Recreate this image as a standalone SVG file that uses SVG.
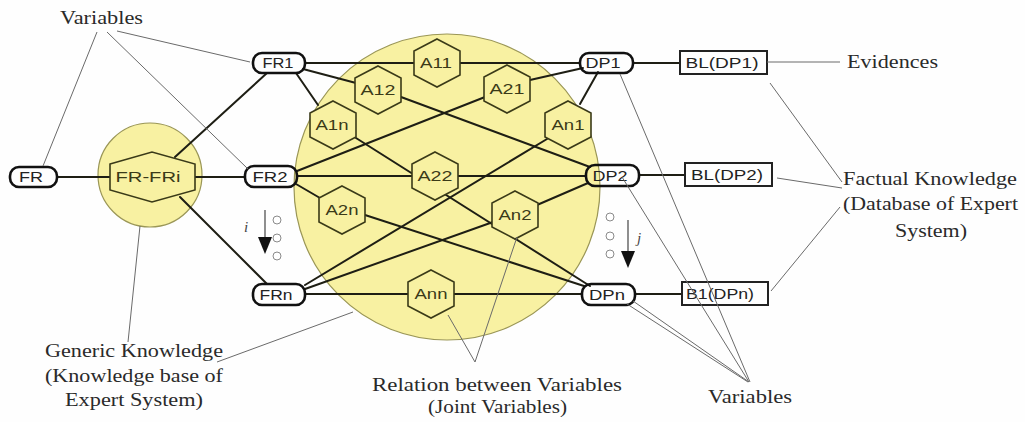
<svg xmlns="http://www.w3.org/2000/svg" width="1025" height="422" viewBox="0 0 1025 422">
<style>
.bg{fill:#fefefe}
.zone{fill:#f8f1a2;stroke:#9a9656;stroke-width:1.2}
.conn{stroke:#1e1e14;stroke-width:2;fill:none;stroke-linecap:round}
.lead{stroke:#6a6a6a;stroke-width:1;fill:none}
.hex{fill:#f8f1a2;stroke:#3a3a18;stroke-width:1.6}
.pill{fill:none;stroke:#111;stroke-width:2.6}
.box{fill:none;stroke:#222;stroke-width:2}
.nl{font-family:"Liberation Sans",Arial,sans-serif;font-size:14px;fill:#222;text-anchor:middle}
.nl2{font-family:"Liberation Sans",Arial,sans-serif;font-size:14px;fill:#3a3a18;text-anchor:middle}
.ann{font-family:"Liberation Serif","Times New Roman",serif;font-size:19px;fill:#2a2a2a}
.idx{font-family:"Liberation Serif","Times New Roman",serif;font-size:15px;font-style:italic;fill:#444}
.dot{fill:#fff;stroke:#8a8a8a;stroke-width:1}
.arr{stroke:#444;stroke-width:1.2}
</style>
<rect class="bg" x="0" y="0" width="1025" height="422"/>

<g id="zones">
  <circle class="zone" cx="447" cy="187" r="153"/>
  <circle class="zone" cx="150" cy="175" r="52"/>
</g>

<g id="connectors">
  <line class="conn" x1="57" y1="177" x2="110" y2="177"/>
  <line class="conn" x1="195" y1="177" x2="245" y2="177"/>
  <line class="conn" x1="267" y1="73" x2="175" y2="157"/>
  <line class="conn" x1="180" y1="197" x2="267" y2="284"/>
  <line class="conn" x1="305" y1="63" x2="414" y2="63"/>
  <line class="conn" x1="460" y1="63" x2="580" y2="63"/>
  <line class="conn" x1="303" y1="69" x2="356" y2="83"/>
  <line class="conn" x1="401" y1="97" x2="590" y2="167"/>
  <line class="conn" x1="296" y1="73" x2="318" y2="105"/>
  <line class="conn" x1="356" y1="138" x2="590" y2="286"/>
  <line class="conn" x1="297" y1="171" x2="485" y2="97"/>
  <line class="conn" x1="530" y1="80" x2="583" y2="68"/>
  <line class="conn" x1="297" y1="176" x2="412" y2="176"/>
  <line class="conn" x1="458" y1="176" x2="586" y2="176"/>
  <line class="conn" x1="296" y1="184" x2="320" y2="198"/>
  <line class="conn" x1="365" y1="215" x2="584" y2="286"/>
  <line class="conn" x1="305" y1="285" x2="547" y2="139"/>
  <line class="conn" x1="580" y1="104" x2="598" y2="72"/>
  <line class="conn" x1="305" y1="289" x2="493" y2="222"/>
  <line class="conn" x1="537" y1="205" x2="588" y2="183"/>
  <line class="conn" x1="305" y1="294" x2="408" y2="294"/>
  <line class="conn" x1="454" y1="294" x2="582" y2="294"/>
  <line class="conn" x1="633" y1="63" x2="680" y2="63"/>
  <line class="conn" x1="639" y1="175" x2="685" y2="175"/>
  <line class="conn" x1="635" y1="294" x2="682" y2="294"/>
</g>

<g id="node-FR-FRi">
  <polygon class="hex" points="110,164 152,152 195,164 195,190 152,202 110,190"/>
  <text class="nl2" x="148" y="182" textLength="65" lengthAdjust="spacingAndGlyphs">FR-FRi</text>
</g>
<g id="node-A11"><polygon class="hex" points="437,39 460,51 460,75 437,87 414,75 414,51"/><text class="nl2" x="436" y="68" textLength="32" lengthAdjust="spacingAndGlyphs">A11</text></g>
<g id="node-A12"><polygon class="hex" points="378,66 401,78 401,102 378,114 355,102 355,78"/><text class="nl2" x="378" y="95" textLength="35" lengthAdjust="spacingAndGlyphs">A12</text></g>
<g id="node-A21"><polygon class="hex" points="507,65 530,77 530,101 507,113 484,101 484,77"/><text class="nl2" x="507" y="94" textLength="35" lengthAdjust="spacingAndGlyphs">A21</text></g>
<g id="node-A1n"><polygon class="hex" points="333,101 356,113 356,137 333,149 310,137 310,113"/><text class="nl2" x="332" y="130" textLength="33" lengthAdjust="spacingAndGlyphs">A1n</text></g>
<g id="node-An1"><polygon class="hex" points="568,101 591,113 591,137 568,149 545,137 545,113"/><text class="nl2" x="568" y="130" textLength="33" lengthAdjust="spacingAndGlyphs">An1</text></g>
<g id="node-A22"><polygon class="hex" points="435,152 458,164 458,188 435,200 412,188 412,164"/><text class="nl2" x="435" y="181" textLength="35" lengthAdjust="spacingAndGlyphs">A22</text></g>
<g id="node-A2n"><polygon class="hex" points="342,186 365,198 365,222 342,234 319,222 319,198"/><text class="nl2" x="342" y="215" textLength="33" lengthAdjust="spacingAndGlyphs">A2n</text></g>
<g id="node-An2"><polygon class="hex" points="515,191 538,203 538,227 515,239 492,227 492,203"/><text class="nl2" x="515" y="220" textLength="33" lengthAdjust="spacingAndGlyphs">An2</text></g>
<g id="node-Ann"><polygon class="hex" points="431,270 454,282 454,306 431,318 408,306 408,282"/><text class="nl2" x="431" y="299" textLength="33" lengthAdjust="spacingAndGlyphs">Ann</text></g>

<g id="node-FR"><rect class="pill" x="10" y="167" width="47" height="20" rx="9"/><text class="nl" x="31" y="182" textLength="24" lengthAdjust="spacingAndGlyphs">FR</text></g>
<g id="node-FR1"><rect class="pill" x="253" y="53" width="52" height="20" rx="9"/><text class="nl" x="278" y="68" textLength="31" lengthAdjust="spacingAndGlyphs">FR1</text></g>
<g id="node-FR2"><rect class="pill" x="245" y="166" width="52" height="21" rx="9"/><text class="nl" x="270" y="182" textLength="35" lengthAdjust="spacingAndGlyphs">FR2</text></g>
<g id="node-FRn"><rect class="pill" x="253" y="284" width="52" height="21" rx="9"/><text class="nl" x="276" y="300" textLength="33" lengthAdjust="spacingAndGlyphs">FRn</text></g>
<g id="node-DP1"><rect class="pill" x="580" y="53" width="53" height="20" rx="9"/><text class="nl" x="603" y="68" textLength="35" lengthAdjust="spacingAndGlyphs">DP1</text></g>
<g id="node-DP2"><rect class="pill" x="586" y="165" width="53" height="21" rx="9"/><text class="nl" x="610" y="181" textLength="35" lengthAdjust="spacingAndGlyphs">DP2</text></g>
<g id="node-DPn"><rect class="pill" x="582" y="284" width="53" height="21" rx="9"/><text class="nl" x="607" y="300" textLength="36" lengthAdjust="spacingAndGlyphs">DPn</text></g>

<g id="node-BL-DP1"><rect class="box" x="680" y="51" width="87" height="23"/><text class="nl" x="722" y="68" textLength="73" lengthAdjust="spacingAndGlyphs">BL(DP1)</text></g>
<g id="node-BL-DP2"><rect class="box" x="685" y="163" width="87" height="23"/><text class="nl" x="727" y="180" textLength="72" lengthAdjust="spacingAndGlyphs">BL(DP2)</text></g>
<g id="node-B1-DPn"><rect class="box" x="682" y="282" width="86" height="23"/><text class="nl" x="720" y="299" textLength="68" lengthAdjust="spacingAndGlyphs">B1(DPn)</text></g>

<g id="index-i">
  <circle class="dot" cx="277" cy="220" r="4"/>
  <circle class="dot" cx="277" cy="238" r="4"/>
  <circle class="dot" cx="277" cy="256" r="4"/>
  <line class="arr" x1="265" y1="210" x2="265" y2="240"/>
  <polygon points="258,237 272,237 265,254" fill="#111"/>
  <text class="idx" x="244" y="232">i</text>
</g>
<g id="index-j">
  <circle class="dot" cx="610" cy="217" r="4"/>
  <circle class="dot" cx="610" cy="236" r="4"/>
  <circle class="dot" cx="610" cy="254" r="4"/>
  <line class="arr" x1="628" y1="220" x2="628" y2="254"/>
  <polygon points="621,251 635,251 628,268" fill="#111"/>
  <text class="idx" x="637" y="243">j</text>
</g>

<g id="leaders">
  <line class="lead" x1="97" y1="32" x2="43" y2="166"/>
  <line class="lead" x1="107" y1="32" x2="248" y2="169"/>
  <line class="lead" x1="117" y1="31" x2="250" y2="62"/>
  <line class="lead" x1="767" y1="62" x2="840" y2="62"/>
  <line class="lead" x1="770" y1="83" x2="842" y2="182"/>
  <line class="lead" x1="777" y1="178" x2="842" y2="188"/>
  <line class="lead" x1="771" y1="291" x2="840" y2="207"/>
  <line class="lead" x1="140" y1="226" x2="128" y2="342"/>
  <line class="lead" x1="217" y1="362" x2="353" y2="312"/>
  <line class="lead" x1="475" y1="362" x2="448" y2="315"/>
  <line class="lead" x1="475" y1="362" x2="517" y2="237"/>
  <line class="lead" x1="620" y1="74" x2="750" y2="382"/>
  <line class="lead" x1="622" y1="177" x2="749" y2="382"/>
  <line class="lead" x1="633" y1="301" x2="749" y2="382"/>
  <line class="lead" x1="627" y1="304" x2="748" y2="382"/>
</g>

<g id="labels">
  <text class="ann" x="60" y="24" textLength="83" lengthAdjust="spacingAndGlyphs">Variables</text>
  <text class="ann" x="847" y="68" textLength="91" lengthAdjust="spacingAndGlyphs">Evidences</text>
  <text class="ann" x="843" y="185" textLength="174" lengthAdjust="spacingAndGlyphs">Factual Knowledge</text>
  <text class="ann" x="843" y="210" textLength="175" lengthAdjust="spacingAndGlyphs">(Database of Expert</text>
  <text class="ann" x="895" y="237" textLength="72" lengthAdjust="spacingAndGlyphs">System)</text>
  <text class="ann" x="45" y="357" textLength="178" lengthAdjust="spacingAndGlyphs">Generic Knowledge</text>
  <text class="ann" x="45" y="382" textLength="178" lengthAdjust="spacingAndGlyphs">(Knowledge base of</text>
  <text class="ann" x="65" y="406" textLength="138" lengthAdjust="spacingAndGlyphs">Expert System)</text>
  <text class="ann" x="372" y="391" textLength="250" lengthAdjust="spacingAndGlyphs">Relation between Variables</text>
  <text class="ann" x="428" y="413" textLength="139" lengthAdjust="spacingAndGlyphs">(Joint Variables)</text>
  <text class="ann" x="708" y="403" textLength="84" lengthAdjust="spacingAndGlyphs">Variables</text>
</g>
</svg>
